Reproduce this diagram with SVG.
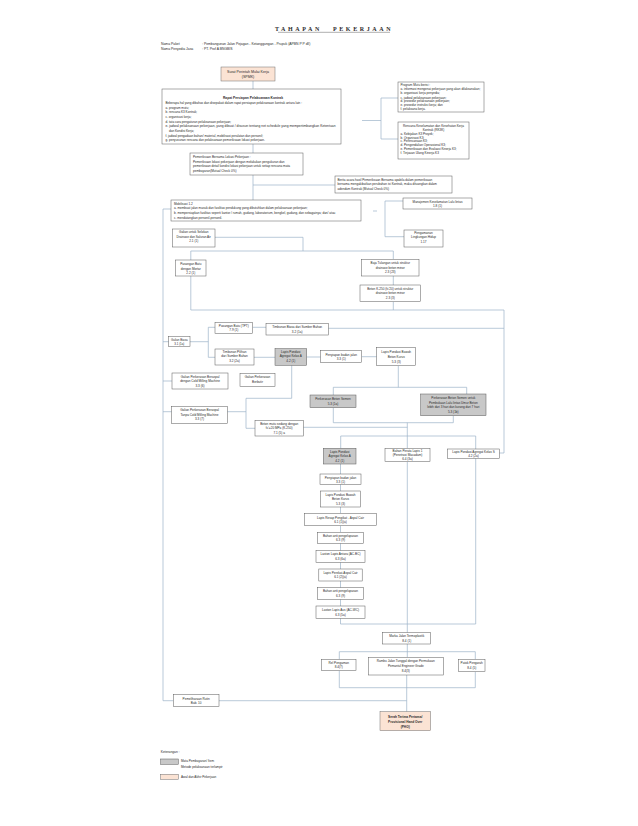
<svg xmlns="http://www.w3.org/2000/svg" width="638" height="826" viewBox="0 0 638 826">
<style>
text{font-family:"Liberation Sans",Arial,sans-serif;font-size:3.1px;fill:#2a2a2a}
.c{text-anchor:middle}
.bx{fill:#fff;stroke:#595959;stroke-width:0.5}
.gr{fill:#c8c8c8;stroke:#595959;stroke-width:0.5}
.pc{fill:#fbe3d4;stroke:#6f6f6f;stroke-width:0.5}
.ln{fill:none;stroke:#9cb3c9;stroke-width:0.7}
.bd{font-weight:bold}
</style>
<rect width="638" height="826" fill="#fff"/>
<g id="header">
<text x="334" y="30.5" class="c bd" style="font-family:'Liberation Serif',serif;font-size:6px;letter-spacing:2.6px;word-spacing:7px">TAHAPAN PEKERJAAN</text>
<line x1="278" y1="32.3" x2="390" y2="32.3" stroke="#333" stroke-width="0.4"/>
<text x="161" y="44.5" style="font-size:3.4px">Nama Paket</text>
<text x="161" y="50" style="font-size:3.4px">Nama Penyedia Jasa</text>
<text x="202" y="44.5" style="font-size:3.4px">: Pembangunan Jalan Pejagan - Ketanggungan - Prupuk (APBN P P dll)</text>
<text x="202" y="50" style="font-size:3.4px">: PT. Prof A BNGBIS</text>
</g>
<g id="connectors">
<path class="ln" d="M253 81V89M253 144V153M253 175V200M253 185H335"/>
<path class="ln" d="M362 120.5H381M398 98H381V139H398"/>
<path class="ln" d="M171 209H163V700.7H173.3"/>
<path class="ln" d="M373 211H377M403 201H385V236.7H404"/>
<path class="ln" d="M215 237.3H303V251M190.8 260V251H393.3V259.3M393.3 276V285M393.3 301.7V310"/>
<path class="ln" d="M190.8 276V310H504M328.3 328.3H504M504 310V453H499.3"/>
<path class="ln" d="M163 341.7H168.7M190 341.7H208.3M215 327.3H208.3V357.3H215M252.7 327.3H266M254 357.3H275M306.7 357H320.7M361.7 356.7H376.7"/>
<path class="ln" d="M398.3 365.7V387.3M333.3 395V387.3H466.7V394M333.3 407.7V422.7H453.3V415.7M407.3 422.7V436"/>
<path class="ln" d="M163 381H172M163 411.7H171.7M227.3 411.7H246M291.7 365.3V398.3H246V428.3H255M303.3 427.3H407.3"/>
<path class="ln" d="M340.7 448.3V436H475.7V449M407.3 436V448.3M340.5 464V474M340.5 484.3V491M340.5 507V513.3"/>
<path class="ln" d="M340.5 525.7V532.3M340.5 543.3V550.7M340.5 562.3V569M340.5 581V587.7M340.5 599.3V606M340.5 618.3V624H475.7M407.3 461.7V632.7M475.7 458.3V624"/>
<path class="ln" d="M407.3 644V657.3M339.3 659.3V651.7H475.3V659.3M339.3 670.7V687.7H475.3V671.7M406.7 675V711.7M219 700.7H406.7"/>
</g>
<g id="spmk"><rect class="pc" x="221" y="67" width="54" height="14"/><text x="248" y="73.3" class="c" style="font-size:3.6px">Surat Perintah Mulai Kerja</text><text x="248" y="78.3" class="c" style="font-size:3.6px">(SPMK)</text></g>
<g id="rapat"><rect class="bx" x="162" y="89" width="179" height="55"/>
<text x="253" y="99.3" class="c bd" style="font-size:3.3px">Rapat Persiapan Pelaksanaan Kontrak</text>
<g style="font-size:3.2px">
<text x="165.5" y="104">Beberapa hal yang dibahas dan disepakati dalam rapat persiapan pelaksanaan kontrak antara lain :</text>
<text x="165.5" y="108.8">a. program mutu;</text>
<text x="165.5" y="113.4">b. rencana K3 Kontrak;</text>
<text x="165.5" y="117.8">c. organisasi kerja;</text>
<text x="165.5" y="123">d. tata cara pengaturan pelaksanaan pekerjaan;</text>
<text x="165.5" y="127.3" textLength="170" lengthAdjust="spacingAndGlyphs">e. jadwal pelaksanaan pekerjaan, yang dibuat / disusun tentang net schedule yang mempertimbangkan Ketentuan</text>
<text x="169" y="131.8">dan Kondisi Kerja;</text>
<text x="165.5" y="136.8">f. jadwal pengadaan bahan/ material, mobilisasi peralatan dan personil;</text>
<text x="165.5" y="141.2">g. penyusunan rencana dan pelaksanaan pemeriksaan lokasi pekerjaan.</text>
</g></g>
<g id="program-mutu"><rect class="bx" x="398" y="82" width="86" height="30"/>
<g style="font-size:2.9px">
<text x="400.5" y="86.2">Program Mutu berisi :</text>
<text x="400.5" y="90.2">a. informasi mengenai pekerjaan yang akan dilaksanakan;</text>
<text x="400.5" y="93.9">b. organisasi kerja penyedia;</text>
<text x="400.5" y="98.5">c. jadwal pelaksanaan pekerjaan;</text>
<text x="400.5" y="102">d. prosedur pelaksanaan pekerjaan;</text>
<text x="400.5" y="105.5">e. prosedur instruksi kerja; dan</text>
<text x="400.5" y="109.5">f. pelaksana kerja.</text>
</g></g>
<g id="rk3k"><rect class="bx" x="398" y="122" width="71" height="37"/>
<g style="font-size:2.9px">
<text x="433.5" y="126.9" class="c">Rencana Keselamatan dan Kesehatan Kerja</text>
<text x="433.5" y="130.9" class="c">Kontrak (RK3K)</text>
<text x="400.5" y="134.9">a. Kebijakan K3 Proyek;</text>
<text x="400.5" y="138.5">b. Organisasi K3;</text>
<text x="400.5" y="142.2">c. Perencanaan K3;</text>
<text x="400.5" y="145.9">d. Pengendalian Operasional K3;</text>
<text x="400.5" y="149.5">e. Pemeriksaan dan Evaluasi Kinerja K3;</text>
<text x="400.5" y="154.2">f. Tinjauan Ulang Kinerja K3</text>
</g></g>
<g id="pemeriksaan"><rect class="bx" x="190" y="153" width="113" height="22"/>
<g style="font-size:3.1px">
<text x="193" y="158.2">Pemeriksaan Bersama Lokasi Pekerjaan :</text>
<text x="193" y="162.7">Pemeriksaan lokasi pekerjaan dengan melakukan pengukuran dan</text>
<text x="193" y="167.2">pemeriksaan detail kondisi lokasi pekerjaan untuk setiap rencana mata</text>
<text x="193" y="171.9">pembayaran(Mutual Check 0%)</text>
</g></g>
<g id="berita-acara"><rect class="bx" x="335" y="176" width="117" height="17"/>
<g style="font-size:3.1px">
<text x="337.5" y="180.5">Berita acara hasil Pemeriksaan Bersama apabila dalam pemeriksaan</text>
<text x="337.5" y="185">bersama mengakibatkan perubahan isi Kontrak, maka dituangkan dalam</text>
<text x="337.5" y="189.5">adendum Kontrak (Mutual Check 0%)</text>
</g></g>
<g id="mobilisasi"><rect class="bx" x="171" y="200" width="190" height="21"/>
<g style="font-size:3.1px">
<text x="174" y="204.5">Mobilisasi  1.2</text>
<text x="174" y="209">a. membuat jalan masuk dan fasilitas pendukung yang dibutuhkan dalam pelaksanaan pekerjaan;</text>
<text x="174" y="213.6">b. mempersiapkan fasilitas seperti kantor / rumah, gudang, laboratorium, bengkel, gudang, dan sebagainya; dan/ atau</text>
<text x="174" y="218.6">c. mendatangkan personil-personil.</text>
</g></g>
<g id="manajemen-lalin"><rect class="bx" x="403" y="198" width="69" height="11"/><text x="437.5" y="202.6" class="c">Manajemen Keselamatan Lalu lintas</text><text x="437.5" y="206.8" class="c">1.8 (1)</text></g>
<g id="pengamanan"><rect class="bx" x="404" y="230" width="39" height="17"/><text x="423.5" y="234.3" class="c">Pengamanan</text><text x="423.5" y="238.4" class="c">Lingkungan Hidup</text><text x="423.5" y="242.6" class="c">1.17</text></g>
<g id="galian-selokan"><rect class="bx" x="172.5" y="229" width="42.5" height="18"/><text x="193.7" y="233.2" class="c">Galian untuk Selokan</text><text x="193.7" y="237.5" class="c">Drainase dan Saluran Air</text><text x="193.7" y="242.3" class="c">2.1 (1)</text></g>
<g id="pasangan-mortar"><rect class="bx" x="175.7" y="260" width="30.3" height="16"/><text x="190.8" y="265.2" class="c">Pasangan Batu</text><text x="190.8" y="269.5" class="c">dengan Mortar</text><text x="190.8" y="273.6" class="c">2.2 (1)</text></g>
<g id="baja-tulangan"><rect class="bx" x="361.7" y="259.3" width="57.3" height="16.7"/><text x="390.3" y="264" class="c">Baja Tulangan untuk struktur</text><text x="390.3" y="268.5" class="c">drainase beton minor</text><text x="390.3" y="273" class="c">2.3 (23)</text></g>
<g id="beton-drainase"><rect class="bx" x="360" y="285" width="60.7" height="16.7"/><text x="390.3" y="289.6" class="c">Beton K-250 (fc'20) untuk struktur</text><text x="390.3" y="294" class="c">drainase beton minor</text><text x="390.3" y="298.6" class="c">2.3 (3)</text></g>
<g id="galian-biasa"><rect class="bx" x="168.7" y="336.7" width="21.3" height="10"/><text x="179.3" y="340.6" class="c" style="font-size:2.9px">Galian Biasa</text><text x="179.3" y="345.3" class="c" style="font-size:2.9px">3.1 (1a)</text></g>
<g id="pasangan-tpt"><rect class="bx" x="215" y="322.7" width="37.7" height="10.6"/><text x="233.8" y="327" class="c">Pasangan Batu (TPT)</text><text x="233.8" y="331.3" class="c">7.9 (1)</text></g>
<g id="timbunan-biasa"><rect class="bx" x="266" y="323.3" width="62.3" height="11.7"/><text x="297.2" y="328" class="c">Timbunan Biasa dari Sumber Bahan</text><text x="297.2" y="332.6" class="c">3.2 (1a)</text></g>
<g id="timbunan-pilihan"><rect class="bx" x="215" y="349" width="39" height="16"/><text x="234.5" y="352.6" class="c">Timbunan Pilihan</text><text x="234.5" y="357.3" class="c">dari Sumber Bahan</text><text x="234.5" y="362" class="c">3.2 (2a)</text></g>
<g id="lpa-kelas-a-1"><rect class="gr" x="275" y="348.7" width="31.7" height="16.6"/><text x="290.8" y="352.7" class="c">Lapis Pondasi</text><text x="290.8" y="357.3" class="c">Agregat Kelas A</text><text x="290.8" y="362" class="c">4.2 (1)</text></g>
<g id="penyiapan-1"><rect class="bx" x="320.7" y="350.5" width="41" height="12"/><text x="341.2" y="355.5" class="c">Penyiapan badan jalan</text><text x="341.2" y="360" class="c">3.3 (1)</text></g>
<g id="lpb-beton-kurus-1"><rect class="bx" x="376.7" y="347.7" width="39" height="18"/><text x="396.2" y="353.3" class="c">Lapis Pondasi Bawah</text><text x="396.2" y="358.3" class="c">Beton Kurus</text><text x="396.2" y="363" class="c">5.3 (3)</text></g>
<g id="galian-cmm"><rect class="bx" x="172" y="373" width="56" height="16"/><text x="200" y="377.5" class="c">Galian Perkerasan Beraspal</text><text x="200" y="382" class="c">dengan Cold Milling Machine</text><text x="200" y="386.5" class="c">3.3 (6)</text></g>
<g id="galian-berbutir"><rect class="bx" x="240" y="373.5" width="35" height="13"/><text x="257.5" y="378" class="c">Galian Perkerasan</text><text x="257.5" y="383" class="c">Berbutir</text></g>
<g id="beton-semen"><rect class="gr" x="310" y="395" width="46" height="12.7"/><text x="333" y="400.3" class="c">Perkerasan Beton Semen</text><text x="333" y="404.8" class="c">5.3 (1a)</text></g>
<g id="beton-semen-7hari"><rect class="gr" x="420.7" y="394" width="65.3" height="21.7"/><text x="453.3" y="398.6" class="c">Perkerasan Beton Semen untuk</text><text x="453.3" y="403.5" class="c">Pembukaan Lalu lintas Umur Beton</text><text x="453.3" y="408.4" class="c">lebih dari 3 hari dan kurang dari 7 hari</text><text x="453.3" y="413.2" class="c">5.3 (1b)</text></g>
<g id="galian-tanpa-cmm"><rect class="bx" x="171.7" y="406.7" width="55.6" height="16.6"/><text x="199.5" y="411.2" class="c">Galian Perkerasan Beraspal</text><text x="199.5" y="415.6" class="c">Tanpa Cold Milling Machine</text><text x="199.5" y="420.2" class="c">3.3 (7)</text></g>
<g id="beton-k250"><rect class="bx" x="255" y="420.7" width="48.3" height="15.3"/><text x="279.2" y="425" class="c">Beton mutu sedang dengan</text><text x="279.2" y="429.2" class="c">fc'=20 MPa (K-250)</text><text x="279.2" y="433.5" class="c">7.1 (5) a</text></g>
<g id="lpa-kelas-a-2"><rect class="gr" x="323.3" y="448.3" width="32.7" height="15.7"/><text x="339.7" y="452.8" class="c">Lapis Pondasi</text><text x="339.7" y="457.3" class="c">Agregat Kelas A</text><text x="339.7" y="461.8" class="c">4.2 (1)</text></g>
<g id="penetrasi"><rect class="bx" x="385" y="448.3" width="45" height="13.4"/><text x="407.5" y="452.3" class="c">Bahan Perata Lapis 1</text><text x="407.5" y="456.4" class="c">(Penetrasi Macadam)</text><text x="407.5" y="460.3" class="c">6.4 (3a)</text></g>
<g id="lpa-kelas-s"><rect class="bx" x="447.7" y="449" width="51.6" height="9.3"/><text x="473.5" y="452.9" class="c">Lapis Pondasi Agregat Kelas S</text><text x="473.5" y="457.1" class="c">4.2 (2a)</text></g>
<g id="penyiapan-2"><rect class="bx" x="320" y="474" width="41" height="10.3"/><text x="340.5" y="478.5" class="c">Penyiapan badan jalan</text><text x="340.5" y="482.9" class="c">3.3 (1)</text></g>
<g id="lpb-beton-kurus-2"><rect class="bx" x="320.5" y="491" width="40" height="16"/><text x="340.5" y="496.2" class="c">Lapis Pondasi Bawah</text><text x="340.5" y="500.4" class="c">Beton Kurus</text><text x="340.5" y="504.8" class="c">5.3 (3)</text></g>
<g id="lapis-resap"><rect class="bx" x="304.3" y="513.3" width="72.4" height="12.4"/><text x="340.5" y="518.5" class="c">Lapis Resap Pengikat - Aspal Cair</text><text x="340.5" y="522.9" class="c">6.1 (1)(a)</text></g>
<g id="anti-pengelupasan-1"><rect class="bx" x="317.7" y="532.3" width="45.6" height="11"/><text x="340.5" y="536.8" class="c">Bahan anti pengelupasan</text><text x="340.5" y="541.2" class="c">6.3 (9)</text></g>
<g id="ac-bc"><rect class="bx" x="316" y="550.7" width="49" height="11.6"/><text x="340.5" y="555.2" class="c">Laston Lapis Antara (AC-BC)</text><text x="340.5" y="559.6" class="c">6.3 (6a)</text></g>
<g id="lapis-perekat"><rect class="bx" x="318.8" y="569" width="43.4" height="12"/><text x="340.5" y="573.6" class="c">Lapis Perekat-Aspal Cair</text><text x="340.5" y="578.3" class="c">6.1 (2)(a)</text></g>
<g id="anti-pengelupasan-2"><rect class="bx" x="317.7" y="587.7" width="45.6" height="11.6"/><text x="340.5" y="592" class="c">Bahan anti pengelupasan</text><text x="340.5" y="596.8" class="c">6.3 (9)</text></g>
<g id="ac-wc"><rect class="bx" x="316" y="606" width="49" height="12.3"/><text x="340.5" y="611.2" class="c">Laston Lapis Aus (AC-WC)</text><text x="340.5" y="615.5" class="c">6.3 (5a)</text></g>
<g id="marka"><rect class="bx" x="382.7" y="632.7" width="48" height="11.3"/><text x="406.7" y="637" class="c">Marka Jalan Termoplastik</text><text x="406.7" y="641.5" class="c">8.4 (1)</text></g>
<g id="rel-pengaman"><rect class="bx" x="321.7" y="659.3" width="34.3" height="11.4"/><text x="338.8" y="663.7" class="c">Rel Pengaman</text><text x="338.8" y="668.4" class="c">8.4(7)</text></g>
<g id="rambu"><rect class="bx" x="368.3" y="657.3" width="75" height="17.7"/><text x="405.8" y="662.4" class="c">Rambu Jalan Tunggal dengan Permukaan</text><text x="405.8" y="667.3" class="c">Pemantul Engineer Grade</text><text x="405.8" y="672" class="c">8.4(3)</text></g>
<g id="patok"><rect class="bx" x="458.3" y="659.3" width="26.7" height="12.4"/><text x="471.7" y="663.8" class="c">Patok Pengarah</text><text x="471.7" y="668.5" class="c">8.4 (5)</text></g>
<g id="pemeliharaan"><rect class="bx" x="173.3" y="694.3" width="45.7" height="12.4"/><text x="196.2" y="699.6" class="c">Pemeliharaan Rutin</text><text x="196.2" y="704" class="c">Bab. 10</text></g>
<g id="pho"><rect class="pc" x="380" y="711.7" width="50.5" height="19"/><text x="405.2" y="718.3" class="c bd" style="font-size:3.2px">Serah Terima Pertama/</text><text x="405.2" y="723" class="c bd" style="font-size:3.2px">Provisional Hand Over</text><text x="405.2" y="727.8" class="c bd" style="font-size:3.2px">(PHO)</text></g>
<g id="legend">
<text x="160.7" y="753.3" style="font-size:3.3px">Keterangan :</text>
<rect class="gr" x="160.7" y="759" width="17.6" height="5.3"/>
<text x="181" y="762.4">Mata Pembayaran/ Item</text>
<text x="181" y="767.8">Metode pelaksanaan terlampir</text>
<rect class="pc" x="160.7" y="774.3" width="17.6" height="5"/>
<text x="181" y="777.9">Awal dan Akhir Pekerjaan</text>
</g>
</svg>
